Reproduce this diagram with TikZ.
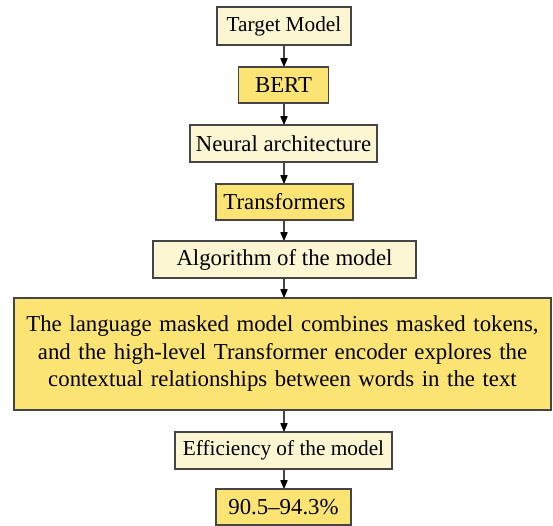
\documentclass[tikz,border=0pt]{standalone}
\usepackage{fontspec}
\setmainfont{Liberation Serif}
\usetikzlibrary{arrows.meta}
\definecolor{paleyellow}{HTML}{FCF7D2}
\definecolor{richyellow}{HTML}{FBE474}
\definecolor{edgegray}{HTML}{454545}
\tikzset{
  flowbox/.style={draw=edgegray, line width=1.1bp, inner sep=0pt, align=center,
    font=\fontsize{22.8bp}{27.5bp}\selectfont},
  lightbox/.style={flowbox, fill=paleyellow},
  darkbox/.style={flowbox, fill=richyellow},
  smalltext/.style={font=\fontsize{21.3bp}{26bp}\selectfont},
  link/.style={draw=edgegray, line width=1.1bp,
    -{Triangle[length=9bp,width=7.5bp,round,fill=black,color=black]}, shorten >=0.3bp}
}
\begin{document}
\begin{tikzpicture}[x=1bp,y=-1bp]
  \useasboundingbox (0,0) rectangle (553,526);
  \node[lightbox, smalltext, minimum width=134bp, minimum height=38bp] (target) at (284,26) {Target Model};
  \node[darkbox, minimum width=90bp, minimum height=36bp] (bert) at (283.5,85) {BERT};
  \node[lightbox, minimum width=187bp, minimum height=37bp] (neural) at (283.5,143.5) {Neural architecture};
  \node[darkbox, minimum width=137bp, minimum height=36bp] (trans) at (284.5,202) {Transformers};
  \node[lightbox, minimum width=263bp, minimum height=37bp] (algo) at (284.5,259.5) {Algorithm of the model};
  \node[darkbox, minimum width=537bp, minimum height=112bp, text width=537bp] (desc) at (282.5,354)
    {The language masked model combines masked tokens,\\
     and the high-level Transformer encoder explores the\\
     contextual relationships between words in the text};
  \node[lightbox, smalltext, minimum width=217bp, minimum height=37bp] (eff) at (283.5,450.5) {Efficiency of the model};
  \node[darkbox, minimum width=135bp, minimum height=36bp] (value) at (283.5,507) {90.5–94.3\%};

  \draw[link] (target.south -| 284,0) -- (bert.north -| 284,0);
  \draw[link] (bert.south -| 284,0) -- (neural.north -| 284,0);
  \draw[link] (neural.south -| 284,0) -- (trans.north -| 284,0);
  \draw[link] (trans.south -| 284,0) -- (algo.north -| 284,0);
  \draw[link] (algo.south -| 284,0) -- (desc.north -| 284,0);
  \draw[link] (desc.south -| 284,0) -- (eff.north -| 284,0);
  \draw[link] (eff.south -| 284,0) -- (value.north -| 284,0);
\end{tikzpicture}
\end{document}
